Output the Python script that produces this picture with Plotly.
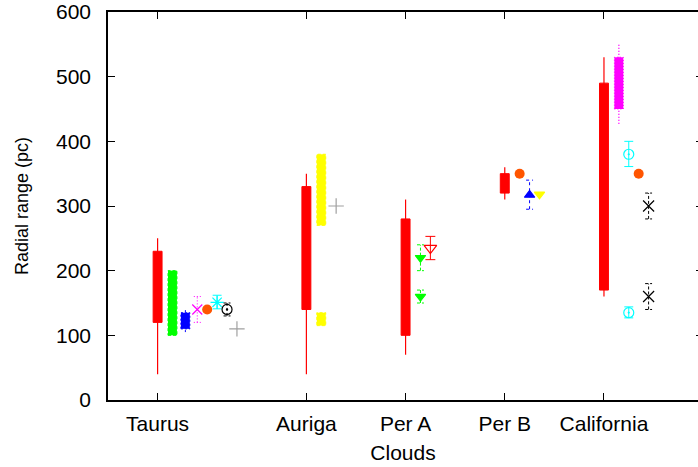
import plotly.graph_objects as go

# ---- clouds and axis ticks ----
CLOUDS = ["Taurus", "Auriga", "Per A", "Per B", "California"]
CLOUD_TICKS = [1, 2.5, 3.5, 4.5, 5.5]
Y_TICKS = [0, 100, 200, 300, 400, 500, 600]

# ---- red: full radial extent (whisker) and main range (box) ----
RED_X = [1.0, 2.5, 3.5, 4.5, 5.5]
RED_MIN = [40, 40, 70, 310, 160]
RED_LOW = [120, 140, 100, 320, 170]
RED_HIGH = [230, 330, 280, 350, 490]
RED_MAX = [250, 350, 310, 360, 530]

# ---- green: range (Taurus) and two distances with errors (Per A) ----
GREEN_BOX_X = [1.15]
GREEN_BOX_LOW = [100]
GREEN_BOX_HIGH = [200]
GREEN_PT_X = [3.65, 3.65]
GREEN_PT_Y = [220, 160]
GREEN_PT_LOW = [200, 150]
GREEN_PT_HIGH = [240, 170]

# ---- blue ----
BLUE_BOX_X = [1.28]
BLUE_BOX_MIN = [105]
BLUE_BOX_LOW = [110]
BLUE_BOX_HIGH = [135]
BLUE_BOX_MAX = [140]
BLUE_PT_X = [4.75]
BLUE_PT_Y = [317]
BLUE_PT_LOW = [295]
BLUE_PT_HIGH = [340]

# ---- magenta ----
MAGENTA_PT_X = [1.40]
MAGENTA_PT_Y = [140]
MAGENTA_PT_LOW = [120]
MAGENTA_PT_HIGH = [160]
MAGENTA_BOX_X = [5.65]
MAGENTA_BOX_MIN = [427]
MAGENTA_BOX_LOW = [450]
MAGENTA_BOX_HIGH = [530]
MAGENTA_BOX_MAX = [550]

# ---- orange single distances ----
ORANGE_X = [1.50, 4.65, 5.85]
ORANGE_Y = [140, 350, 350]

# ---- cyan ----
CYAN_STAR_X = [1.60]
CYAN_STAR_Y = [151]
CYAN_STAR_LOW = [141]
CYAN_STAR_HIGH = [162]
CYAN_RING_X = [5.75, 5.75]
CYAN_RING_Y = [380, 135]
CYAN_RING_LOW = [361, 127]
CYAN_RING_HIGH = [400, 144]

# ---- black ----
BLACK_RING_X = [1.70]
BLACK_RING_Y = [140]
BLACK_RING_LOW = [130]
BLACK_RING_HIGH = [150]
BLACK_CROSS_X = [5.95, 5.95]
BLACK_CROSS_Y = [300, 160]
BLACK_CROSS_LOW = [280, 140]
BLACK_CROSS_HIGH = [320, 180]

# ---- grey single distances ----
GREY_X = [1.80, 2.80]
GREY_Y = [110, 300]

# ---- yellow ----
YELLOW_BOX_X = [2.65, 2.65]
YELLOW_BOX_LOW = [270, 115]
YELLOW_BOX_HIGH = [380, 135]
YELLOW_PT_X = [4.85]
YELLOW_PT_Y = [318]

# ---- red open triangle with error (Per A) ----
REDTRI_X = [3.75]
REDTRI_Y = [235]
REDTRI_LOW = [217]
REDTRI_HIGH = [253]

RED = "#ff0000"
GREEN = "#00ff00"
BLUE = "#0000ff"
MAGENTA = "#ff00ff"
CYAN = "#00ffff"
YELLOW = "#ffff00"
ORANGE = "#ff5500"
GREY = "#a0a0a0"
BLACK = "#000000"

BOX_HALF = 0.045
CAP_HALF = 0.042
FONT = "Liberation Sans, Arial, Helvetica, sans-serif"
FONT_SIZE = 21

fig = go.Figure()


def add_whiskers(xs, lows, highs, color, dash="solid", width=1.0):
    px, py = [], []
    for x, lo, hi in zip(xs, lows, highs):
        px += [x, x, None]
        py += [lo, hi, None]
    fig.add_trace(go.Scatter(x=px, y=py, mode="lines", hoverinfo="skip",
                             line=dict(color=color, width=width, dash=dash)))


def add_boxes(xs, lows, highs, color, dash="solid"):
    for x, lo, hi in zip(xs, lows, highs):
        fig.add_trace(go.Scatter(
            x=[x - BOX_HALF, x + BOX_HALF, x + BOX_HALF, x - BOX_HALF, x - BOX_HALF],
            y=[lo, lo, hi, hi, lo], mode="lines", fill="toself",
            fillcolor=color, line=dict(color=color, width=1, dash=dash),
            hoverinfo="skip"))


def add_errorbars(xs, lows, highs, color, dash="solid", cap=CAP_HALF, width=1.0):
    px, py = [], []
    for x, lo, hi in zip(xs, lows, highs):
        px += [x, x, None, x - cap, x + cap, None, x - cap, x + cap, None]
        py += [lo, hi, None, lo, lo, None, hi, hi, None]
    fig.add_trace(go.Scatter(x=px, y=py, mode="lines", hoverinfo="skip",
                             line=dict(color=color, width=width, dash=dash)))


def add_points(xs, ys, symbol, color, size=9, line_width=1.2):
    fig.add_trace(go.Scatter(x=xs, y=ys, mode="markers",
                             marker=dict(symbol=symbol, size=size, color=color,
                                         line=dict(color=color, width=line_width))))


# red ranges
add_whiskers(RED_X, RED_MIN, RED_MAX, RED, width=1.2)
add_boxes(RED_X, RED_LOW, RED_HIGH, RED)

# green
add_boxes(GREEN_BOX_X, GREEN_BOX_LOW, GREEN_BOX_HIGH, GREEN, dash="3px,2px")
add_errorbars(GREEN_PT_X, GREEN_PT_LOW, GREEN_PT_HIGH, GREEN, dash="3px,2px", cap=0.035)
add_points(GREEN_PT_X, GREEN_PT_Y, "triangle-down", GREEN)

# blue
add_whiskers(BLUE_BOX_X, BLUE_BOX_MIN, BLUE_BOX_MAX, BLUE, dash="2px,2px")
add_boxes(BLUE_BOX_X, BLUE_BOX_LOW, BLUE_BOX_HIGH, BLUE, dash="2px,2px")
add_errorbars(BLUE_PT_X, BLUE_PT_LOW, BLUE_PT_HIGH, BLUE, dash="3px,3px", cap=0.035)
add_points(BLUE_PT_X, BLUE_PT_Y, "triangle-up", BLUE)

# magenta
add_errorbars(MAGENTA_PT_X, MAGENTA_PT_LOW, MAGENTA_PT_HIGH, MAGENTA, dash="1px,2px", cap=0.035)
add_points(MAGENTA_PT_X, MAGENTA_PT_Y, "x-thin-open", MAGENTA, size=10)
add_whiskers(MAGENTA_BOX_X, MAGENTA_BOX_MIN, MAGENTA_BOX_MAX, MAGENTA, dash="1px,2px", width=1.5)
add_boxes(MAGENTA_BOX_X, MAGENTA_BOX_LOW, MAGENTA_BOX_HIGH, MAGENTA, dash="1px,2px")

# orange
add_points(ORANGE_X, ORANGE_Y, "circle", ORANGE, size=10, line_width=0)

# cyan
add_errorbars(CYAN_STAR_X, CYAN_STAR_LOW, CYAN_STAR_HIGH, CYAN, cap=0.045)
add_points(CYAN_STAR_X, CYAN_STAR_Y, "asterisk-open", CYAN, size=11)
add_errorbars(CYAN_RING_X, CYAN_RING_LOW, CYAN_RING_HIGH, CYAN, cap=0.045)
add_points(CYAN_RING_X, CYAN_RING_Y, "circle-open-dot", CYAN, size=10)

# black
add_errorbars(BLACK_RING_X, BLACK_RING_LOW, BLACK_RING_HIGH, BLACK, dash="3px,2px", cap=0.035)
add_points(BLACK_RING_X, BLACK_RING_Y, "circle-open-dot", BLACK, size=10)
add_errorbars(BLACK_CROSS_X, BLACK_CROSS_LOW, BLACK_CROSS_HIGH, BLACK, dash="3px,2px", cap=0.035)
add_points(BLACK_CROSS_X, BLACK_CROSS_Y, "x-thin-open", BLACK, size=11)

# grey
add_points(GREY_X, GREY_Y, "cross-thin-open", GREY, size=11)

# yellow
add_boxes(YELLOW_BOX_X, YELLOW_BOX_LOW, YELLOW_BOX_HIGH, YELLOW, dash="3px,2px")
add_points(YELLOW_PT_X, YELLOW_PT_Y, "triangle-down", YELLOW)

# red open triangle
add_errorbars(REDTRI_X, REDTRI_LOW, REDTRI_HIGH, RED, cap=0.05)
add_points(REDTRI_X, REDTRI_Y, "triangle-down-open", RED, size=11)

# right-hand tick marks (frame side only, no labels)
fig.add_trace(go.Scatter(x=[None], y=[None], yaxis="y2", mode="markers", hoverinfo="skip"))

fig.update_layout(
    width=698, height=467,
    margin=dict(l=108, r=0, t=12, b=67),
    paper_bgcolor="white", plot_bgcolor="white",
    showlegend=False,
    font=dict(family=FONT, size=FONT_SIZE, color="black"),
    xaxis=dict(
        range=[0.5, 6.448], tickmode="array", tickvals=CLOUD_TICKS, ticktext=CLOUDS,
        ticks="inside", ticklen=7, tickwidth=1, tickcolor="black",
        showline=True, linecolor="black", linewidth=1.5, mirror="ticks",
        showgrid=False, zeroline=False, ticklabelstandoff=4,
        title=dict(text="Clouds", standoff=11, font=dict(family=FONT, size=FONT_SIZE)),
    ),
    yaxis=dict(
        range=[0, 600], tickmode="array", tickvals=Y_TICKS,
        ticks="inside", ticklen=7, tickwidth=1, tickcolor="black",
        showline=True, linecolor="black", linewidth=1.5,
        showgrid=False, zeroline=False, ticklabelstandoff=11,
        title=dict(text="Radial range (pc)", standoff=23, font=dict(family=FONT, size=18)),
    ),
    yaxis2=dict(
        overlaying="y", side="right", range=[0, 600], tickmode="array", tickvals=Y_TICKS,
        ticks="inside", ticklen=2, tickwidth=1, tickcolor="black",
        showticklabels=False, showline=False, showgrid=False, zeroline=False,
    ),
)

fig.write_html("out.html")
